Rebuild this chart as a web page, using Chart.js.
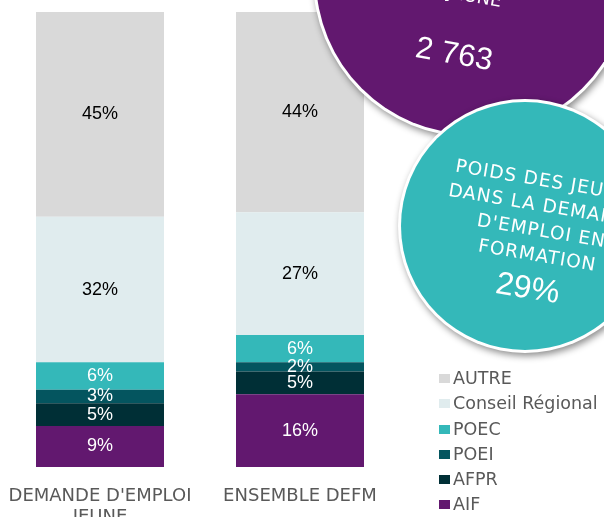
<!DOCTYPE html>
<html>
<head>
<meta charset="utf-8">
<script src="https://cdn.jsdelivr.net/npm/chart.js@4"></script>
<style>
  html, body { margin: 0; padding: 0; background: #fff; overflow: hidden; }
  #wrap { position: relative; width: 604px; height: 517px; }
  #legend { position: absolute; left: 439px; top: 366px; font-family: "DejaVu Sans", sans-serif; font-size: 17.5px; color: #595959; }
  #legend div { height: 25.3px; line-height: 25px; white-space: nowrap; }
  #legend span.box { display: inline-block; width: 11px; height: 9px; margin-right: 3px; vertical-align: 1px; }
</style>
</head>
<body>
<div id="wrap">
  <canvas id="chart" width="604" height="517"></canvas>
  <div id="legend"></div>
</div>
<script>
// categories (x axis)
const categories = [["DEMANDE D'EMPLOI", "JEUNE"], ["ENSEMBLE DEFM"]];

// series, stacked from bottom to top
const seriesNames = ["AIF", "AFPR", "POEI", "POEC", "Conseil Régional", "AUTRE"];
const aif = [9, 16];
const afpr = [5, 5];
const poei = [3, 2];
const poec = [6, 6];
const conseilRegional = [32, 27];
const autre = [45, 44];
const seriesColors = ["#62186F", "#002F36", "#04555F", "#34B8B9", "#E0ECEE", "#D9D9D9"];
const labelColors = ["#fff", "#fff", "#fff", "#fff", "#000", "#000"];

// bubble texts
const bubbleCount = "2 763";
const bubbleShare = "29%";

const seriesValues = [aif, afpr, poei, poec, conseilRegional, autre];

const valueLabels = {
  id: 'valueLabels',
  afterDatasetsDraw(chart) {
    const ctx = chart.ctx;
    ctx.save();
    ctx.font = '18px "Liberation Sans", Arial, sans-serif';
    ctx.textAlign = 'center';
    ctx.textBaseline = 'middle';
    chart.data.datasets.forEach((ds, i) => {
      chart.getDatasetMeta(i).data.forEach((bar, j) => {
        const mid = (bar.y + bar.base) / 2;
        ctx.fillStyle = labelColors[i];
        ctx.fillText(ds.data[j] + '%', bar.x, mid);
      });
    });
    ctx.restore();
  }
};

const bubbles = {
  id: 'bubbles',
  afterDraw(chart) {
    const ctx = chart.ctx;
    const circle = (x, y, r, color) => {
      ctx.save();
      ctx.shadowColor = 'rgba(0,0,0,0.45)';
      ctx.shadowBlur = 7;
      ctx.shadowOffsetX = 2;
      ctx.shadowOffsetY = 3;
      ctx.beginPath();
      ctx.arc(x, y, r + 3, 0, Math.PI * 2);
      ctx.fillStyle = '#fff';
      ctx.fill();
      ctx.restore();
      ctx.beginPath();
      ctx.arc(x, y, r, 0, Math.PI * 2);
      ctx.fillStyle = color;
      ctx.fill();
    };

    // purple bubble
    circle(472, -22, 156, '#62186F');
    ctx.save();
    ctx.fillStyle = '#fff';
    ctx.textAlign = 'center';
    ctx.textBaseline = 'middle';
    ctx.translate(454, 55);
    ctx.rotate(10 * Math.PI / 180);
    ctx.font = '31px "Liberation Sans", Arial, sans-serif';
    ctx.fillText(bubbleCount, 0, 0);
    ctx.font = '18px "DejaVu Sans", sans-serif';
    ctx.fillText('JEUNE', 10, -60);
    ctx.fillText("DEMANDE D'EMPLOI", 10, -83);
    ctx.restore();

    // teal bubble
    circle(525, 226, 124, '#34B8B9');
    ctx.save();
    ctx.fillStyle = '#fff';
    ctx.textAlign = 'center';
    ctx.textBaseline = 'middle';
    ctx.translate(525, 226);
    ctx.rotate(9.5 * Math.PI / 180);
    ctx.font = '18.5px "DejaVu Sans", sans-serif';
    ctx.letterSpacing = '1px';
    const lines = ['POIDS DES JEUNES', 'DANS LA DEMANDE', "D'EMPLOI EN", 'FORMATION'];
    lines.forEach((t, k) => ctx.fillText(t, 17, -47 + k * 25));
    ctx.letterSpacing = '0px';
    ctx.font = '32px "Liberation Sans", Arial, sans-serif';
    ctx.fillText(bubbleShare, 13, 62);
    ctx.restore();
  }
};

const datasets = seriesNames.map((name, i) => ({
  label: name,
  data: seriesValues[i],
  backgroundColor: seriesColors[i],
  borderWidth: 0,
  barPercentage: 0.64,
  categoryPercentage: 1
}));

new Chart(document.getElementById('chart'), {
  type: 'bar',
  data: { labels: categories, datasets: datasets },
  options: {
    responsive: false,
    animation: false,
    layout: { padding: { top: 12, right: 204, left: 0, bottom: 0 } },
    plugins: { legend: { display: false }, tooltip: { enabled: false } },
    scales: {
      x: {
        stacked: true,
        grid: { display: false },
        border: { display: false },
        ticks: { color: '#595959', padding: 11, font: { family: 'DejaVu Sans', size: 18, lineHeight: 1.17 }, maxRotation: 0 },
        afterFit(scale) {
          scale.height = 50;
          scale.paddingLeft = 0;
          scale.paddingRight = 0;
        }
      },
      y: { stacked: true, display: false, min: 0, max: 100 }
    }
  },
  plugins: [valueLabels, bubbles]
});

// legend, top to bottom is the reverse of the stack
const legend = document.getElementById('legend');
for (let i = seriesNames.length - 1; i >= 0; i--) {
  const row = document.createElement('div');
  row.innerHTML = '<span class="box" style="background:' + seriesColors[i] + '"></span>' + seriesNames[i];
  legend.appendChild(row);
}
</script>
</body>
</html>
